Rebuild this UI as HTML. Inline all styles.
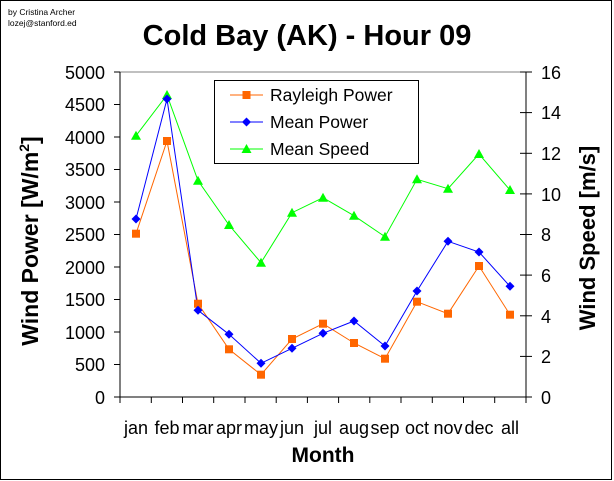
<!DOCTYPE html>
<html><head><meta charset="utf-8"><style>
html,body{margin:0;padding:0;background:#fff;}
svg{display:block;}
text{font-family:"Liberation Sans",Arial,sans-serif;}
</style></head><body>
<svg width="614" height="481" viewBox="0 0 614 481" xmlns="http://www.w3.org/2000/svg">
<rect x="0.5" y="0.5" width="611" height="479" fill="#fff" stroke="#000" stroke-width="1"/>
<text x="8" y="15" font-size="8.5">by Cristina Archer</text>
<text x="8" y="26" font-size="8.5">lozej@stanford.ed</text>
<text x="307" y="45" font-size="29" font-weight="bold" text-anchor="middle">Cold Bay (AK) - Hour 09</text>
<line x1="120" y1="72" x2="526" y2="72" stroke="#808080"/>
<line x1="120" y1="72" x2="120" y2="397" stroke="#000"/>
<line x1="526" y1="72" x2="526" y2="397" stroke="#000"/>
<line x1="120" y1="397" x2="526" y2="397" stroke="#000"/>
<g stroke="#000">
<line x1="114" y1="72" x2="120" y2="72"/><line x1="114" y1="104.5" x2="120" y2="104.5"/><line x1="114" y1="137" x2="120" y2="137"/><line x1="114" y1="169.5" x2="120" y2="169.5"/><line x1="114" y1="202" x2="120" y2="202"/><line x1="114" y1="234.5" x2="120" y2="234.5"/><line x1="114" y1="267" x2="120" y2="267"/><line x1="114" y1="299.5" x2="120" y2="299.5"/><line x1="114" y1="332" x2="120" y2="332"/><line x1="114" y1="364.5" x2="120" y2="364.5"/><line x1="114" y1="397" x2="120" y2="397"/>
<line x1="520" y1="72" x2="532" y2="72"/><line x1="520" y1="112.6" x2="532" y2="112.6"/><line x1="520" y1="153.3" x2="532" y2="153.3"/><line x1="520" y1="193.9" x2="532" y2="193.9"/><line x1="520" y1="234.5" x2="532" y2="234.5"/><line x1="520" y1="275.1" x2="532" y2="275.1"/><line x1="520" y1="315.8" x2="532" y2="315.8"/><line x1="520" y1="356.4" x2="532" y2="356.4"/><line x1="520" y1="397" x2="532" y2="397"/>
<line x1="120" y1="397" x2="120" y2="403"/><line x1="151.3" y1="397" x2="151.3" y2="403"/><line x1="182.5" y1="397" x2="182.5" y2="403"/><line x1="213.7" y1="397" x2="213.7" y2="403"/><line x1="245" y1="397" x2="245" y2="403"/><line x1="276.2" y1="397" x2="276.2" y2="403"/><line x1="307.4" y1="397" x2="307.4" y2="403"/><line x1="338.6" y1="397" x2="338.6" y2="403"/><line x1="369.8" y1="397" x2="369.8" y2="403"/><line x1="401" y1="397" x2="401" y2="403"/><line x1="432.3" y1="397" x2="432.3" y2="403"/><line x1="463.5" y1="397" x2="463.5" y2="403"/><line x1="494.7" y1="397" x2="494.7" y2="403"/><line x1="526" y1="397" x2="526" y2="403"/>
</g>
<g font-size="18" text-anchor="end">
<text x="105" y="79">5000</text><text x="105" y="111">4500</text><text x="105" y="144">4000</text><text x="105" y="176">3500</text><text x="105" y="209">3000</text><text x="105" y="241">2500</text><text x="105" y="274">2000</text><text x="105" y="306">1500</text><text x="105" y="339">1000</text><text x="105" y="371">500</text><text x="105" y="404">0</text>
</g>
<g font-size="18">
<text x="541" y="79">16</text><text x="541" y="119">14</text><text x="541" y="160">12</text><text x="541" y="201">10</text><text x="541" y="241">8</text><text x="541" y="282">6</text><text x="541" y="323">4</text><text x="541" y="363">2</text><text x="541" y="404">0</text>
</g>
<g font-size="18" text-anchor="middle">
<text x="136" y="434">jan</text><text x="167" y="434">feb</text><text x="198" y="434">mar</text><text x="229" y="434">apr</text><text x="261" y="434">may</text><text x="292" y="434">jun</text><text x="323" y="434">jul</text><text x="354" y="434">aug</text><text x="385" y="434">sep</text><text x="417" y="434">oct</text><text x="448" y="434">nov</text><text x="479" y="434">dec</text><text x="510" y="434">all</text>
</g>
<text x="323" y="462" font-size="21" font-weight="bold" text-anchor="middle">Month</text>
<text transform="translate(38,241) rotate(-90)" font-size="23" font-weight="bold" text-anchor="middle">Wind Power [W/m<tspan dy="-9" font-size="14">2</tspan><tspan dy="9">]</tspan></text>
<text transform="translate(595,238) rotate(-90)" font-size="22" font-weight="bold" text-anchor="middle">Wind Speed [m/s]</text>

<polyline fill="none" stroke="#00ff00" points="136,135.7 167,95 198,180.7 229,225 261,262.7 292,212.7 323,197.7 354,215.7 385,236.7 417,179.3 448,188.7 479,154 510,190"/>
<polyline fill="none" stroke="#ff6600" points="136,233.7 167,141 198,303.7 229,349.3 261,374.7 292,339 323,323.7 354,343 385,358.7 417,301.7 448,313.7 479,266 510,314.7"/>
<polyline fill="none" stroke="#0000ff" points="136,219 167,99 198,310.3 229,334.3 261,363.3 292,348.3 323,333.3 354,321 385,346 417,291 448,241.3 479,252 510,286.3"/>
<g fill="#00ff00">
<path d="M136,130.7l-5,9h10z"/><path d="M167,90l-5,9h10z"/><path d="M198,175.7l-5,9h10z"/><path d="M229,220l-5,9h10z"/><path d="M261,257.7l-5,9h10z"/><path d="M292,207.7l-5,9h10z"/><path d="M323,192.7l-5,9h10z"/><path d="M354,210.7l-5,9h10z"/><path d="M385,231.7l-5,9h10z"/><path d="M417,174.3l-5,9h10z"/><path d="M448,183.7l-5,9h10z"/><path d="M479,149l-5,9h10z"/><path d="M510,185l-5,9h10z"/>
</g>
<g fill="#ff6600">
<rect x="132" y="229.7" width="8" height="8"/><rect x="163" y="137" width="8" height="8"/><rect x="194" y="299.7" width="8" height="8"/><rect x="225" y="345.3" width="8" height="8"/><rect x="257" y="370.7" width="8" height="8"/><rect x="288" y="335" width="8" height="8"/><rect x="319" y="319.7" width="8" height="8"/><rect x="350" y="339" width="8" height="8"/><rect x="381" y="354.7" width="8" height="8"/><rect x="413" y="297.7" width="8" height="8"/><rect x="444" y="309.7" width="8" height="8"/><rect x="475" y="262" width="8" height="8"/><rect x="506" y="310.7" width="8" height="8"/>
</g>
<g fill="#0000ff">
<path d="M136,214.5l4.5,4.5l-4.5,4.5l-4.5,-4.5z"/><path d="M167,94.5l4.5,4.5l-4.5,4.5l-4.5,-4.5z"/><path d="M198,305.8l4.5,4.5l-4.5,4.5l-4.5,-4.5z"/><path d="M229,329.8l4.5,4.5l-4.5,4.5l-4.5,-4.5z"/><path d="M261,358.8l4.5,4.5l-4.5,4.5l-4.5,-4.5z"/><path d="M292,343.8l4.5,4.5l-4.5,4.5l-4.5,-4.5z"/><path d="M323,328.8l4.5,4.5l-4.5,4.5l-4.5,-4.5z"/><path d="M354,316.5l4.5,4.5l-4.5,4.5l-4.5,-4.5z"/><path d="M385,341.5l4.5,4.5l-4.5,4.5l-4.5,-4.5z"/><path d="M417,286.5l4.5,4.5l-4.5,4.5l-4.5,-4.5z"/><path d="M448,236.8l4.5,4.5l-4.5,4.5l-4.5,-4.5z"/><path d="M479,247.5l4.5,4.5l-4.5,4.5l-4.5,-4.5z"/><path d="M510,281.8l4.5,4.5l-4.5,4.5l-4.5,-4.5z"/>
</g>

<rect x="214.5" y="80.5" width="204" height="83" fill="#fff" stroke="#000"/>
<line x1="230" y1="95" x2="263" y2="95" stroke="#ff6600"/><rect x="242.5" y="91" width="8" height="8" fill="#ff6600"/>
<line x1="230" y1="122" x2="263" y2="122" stroke="#0000ff"/><path d="M246.5,117.5l4.5,4.5l-4.5,4.5l-4.5,-4.5z" fill="#0000ff"/>
<line x1="230" y1="149" x2="263" y2="149" stroke="#00ff00"/><path d="M246.5,144l-5,9h10z" fill="#00ff00"/>
<g font-size="17.5">
<text x="270" y="101">Rayleigh Power</text>
<text x="270" y="128">Mean Power</text>
<text x="270" y="155">Mean Speed</text>
</g>
</svg>
</body></html>
